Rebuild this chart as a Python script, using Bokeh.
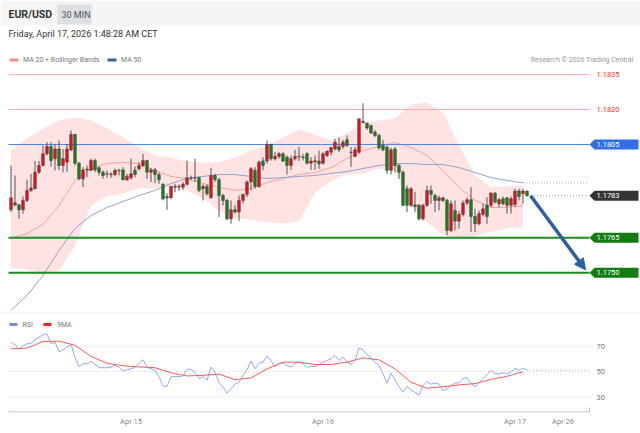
import numpy as np
from bokeh.plotting import figure
from bokeh.layouts import column
from bokeh.models import ColumnDataSource, Range1d, FixedTicker, Arrow, NormalHead
from bokeh.core.properties import value
from bokeh.embed import file_html
from bokeh.resources import INLINE

FONT = value("Roboto")

# ---------------- data ----------------
candle_open = [
    1.17770, 1.17800, 1.17791, 1.17770, 1.17810, 1.17853, 1.17860, 1.17931, 1.17960, 1.18010,
    1.18041, 1.17989, 1.18031, 1.17960, 1.17974, 1.18027, 1.18093, 1.17970, 1.17903, 1.17941,
    1.17939, 1.17981, 1.17950, 1.17931, 1.17924, 1.17921, 1.17921, 1.17939, 1.17941, 1.17899,
    1.17907, 1.17939, 1.17946, 1.17960, 1.17981, 1.17931, 1.17941, 1.17921, 1.17879, 1.17827,
    1.17821, 1.17867, 1.17870, 1.17867, 1.17879, 1.17907, 1.17907, 1.17907, 1.17860, 1.17870,
    1.17821, 1.17917, 1.17899, 1.17831, 1.17810, 1.17731, 1.17770, 1.17760, 1.17810, 1.17836,
    1.17889, 1.17939, 1.17870, 1.17979, 1.17979, 1.18050, 1.17989, 1.17999, 1.18010, 1.17996,
    1.17960, 1.17989, 1.17999, 1.17996, 1.18010, 1.17970, 1.17976, 1.17979, 1.17970, 1.18003,
    1.18017, 1.18031, 1.18041, 1.18041, 1.18070, 1.18017, 1.17999, 1.18017, 1.18150, 1.18141,
    1.18131, 1.18103, 1.18089, 1.18046, 1.18039, 1.17939, 1.18031, 1.17960, 1.17931, 1.17860,
    1.17789, 1.17791, 1.17789, 1.17731, 1.17789, 1.17853, 1.17831, 1.17810, 1.17821, 1.17810,
    1.17681, 1.17767, 1.17721, 1.17750, 1.17799, 1.17813, 1.17741, 1.17710, 1.17750, 1.17789,
    1.17789, 1.17841, 1.17796, 1.17817, 1.17821, 1.17789, 1.17793, 1.17850, 1.17839, 1.17850,
]
candle_close = [
    1.17821, 1.17790, 1.17770, 1.17810, 1.17853, 1.17863, 1.17931, 1.17960, 1.18010, 1.18041,
    1.17981, 1.18031, 1.17960, 1.17989, 1.18031, 1.18093, 1.17970, 1.17903, 1.17941, 1.17944,
    1.17981, 1.17941, 1.17931, 1.17917, 1.17923, 1.17923, 1.17939, 1.17937, 1.17899, 1.17913,
    1.17924, 1.17921, 1.17960, 1.17981, 1.17931, 1.17941, 1.17921, 1.17899, 1.17817, 1.17821,
    1.17870, 1.17870, 1.17868, 1.17879, 1.17907, 1.17906, 1.17906, 1.17853, 1.17870, 1.17839,
    1.17917, 1.17899, 1.17831, 1.17810, 1.17731, 1.17770, 1.17760, 1.17810, 1.17836, 1.17889,
    1.17946, 1.17870, 1.17974, 1.17960, 1.18050, 1.17989, 1.17999, 1.18010, 1.17979, 1.17960,
    1.17989, 1.17999, 1.17997, 1.17994, 1.17970, 1.17979, 1.17980, 1.17967, 1.18010, 1.18021,
    1.18036, 1.18060, 1.18027, 1.18060, 1.18046, 1.18016, 1.18027, 1.18160, 1.18144, 1.18121,
    1.18099, 1.18089, 1.18036, 1.18027, 1.17939, 1.18027, 1.17960, 1.17931, 1.17789, 1.17789,
    1.17860, 1.17784, 1.17731, 1.17789, 1.17853, 1.17836, 1.17810, 1.17821, 1.17810, 1.17681,
    1.17796, 1.17721, 1.17750, 1.17799, 1.17813, 1.17741, 1.17710, 1.17753, 1.17774, 1.17741,
    1.17841, 1.17803, 1.17813, 1.17796, 1.17789, 1.17817, 1.17850, 1.17827, 1.17850, 1.17830,
]
candle_high = [
    1.17960, 1.17917, 1.17795, 1.17827, 1.17899, 1.17924, 1.17979, 1.17979, 1.18046, 1.18060,
    1.18060, 1.18053, 1.18067, 1.18031, 1.18053, 1.18110, 1.18096, 1.17974, 1.17953, 1.17960,
    1.17989, 1.17989, 1.17956, 1.17939, 1.17939, 1.17931, 1.17946, 1.17946, 1.17953, 1.17924,
    1.17989, 1.17956, 1.17974, 1.18010, 1.17984, 1.17950, 1.17950, 1.17931, 1.17884, 1.17841,
    1.17874, 1.17881, 1.17879, 1.17889, 1.17981, 1.17917, 1.17989, 1.17913, 1.17879, 1.17879,
    1.17950, 1.17924, 1.17907, 1.17839, 1.17817, 1.17810, 1.17789, 1.17831, 1.17839, 1.17896,
    1.17953, 1.17953, 1.17981, 1.17996, 1.18067, 1.18053, 1.18017, 1.18017, 1.18017, 1.18003,
    1.18003, 1.18027, 1.18039, 1.18010, 1.18017, 1.17996, 1.18003, 1.18024, 1.18017, 1.18024,
    1.18041, 1.18074, 1.18079, 1.18070, 1.18089, 1.18039, 1.18039, 1.18160, 1.18227, 1.18146,
    1.18136, 1.18113, 1.18096, 1.18070, 1.18046, 1.18036, 1.18039, 1.17967, 1.17939, 1.17874,
    1.17867, 1.17846, 1.17796, 1.17796, 1.17874, 1.17874, 1.17839, 1.17831, 1.17827, 1.17817,
    1.17810, 1.17810, 1.17764, 1.17810, 1.17824, 1.17867, 1.17774, 1.17767, 1.17796, 1.17824,
    1.17846, 1.17846, 1.17821, 1.17827, 1.17824, 1.17827, 1.17860, 1.17860, 1.17860, 1.17853,
]
candle_low = [
    1.17760, 1.17785, 1.17731, 1.17753, 1.17803, 1.17846, 1.17856, 1.17924, 1.17956, 1.18003,
    1.17956, 1.17939, 1.17941, 1.17931, 1.17931, 1.18021, 1.17960, 1.17896, 1.17867, 1.17910,
    1.17936, 1.17931, 1.17917, 1.17903, 1.17907, 1.17907, 1.17913, 1.17917, 1.17896, 1.17893,
    1.17899, 1.17910, 1.17939, 1.17953, 1.17903, 1.17889, 1.17884, 1.17881, 1.17810, 1.17770,
    1.17817, 1.17846, 1.17850, 1.17856, 1.17874, 1.17896, 1.17889, 1.17846, 1.17810, 1.17831,
    1.17817, 1.17889, 1.17739, 1.17789, 1.17724, 1.17710, 1.17753, 1.17721, 1.17796, 1.17824,
    1.17853, 1.17860, 1.17864, 1.17939, 1.17967, 1.17981, 1.17981, 1.17989, 1.17974, 1.17921,
    1.17941, 1.17981, 1.17979, 1.17981, 1.17964, 1.17941, 1.17941, 1.17946, 1.17964, 1.17996,
    1.18003, 1.18024, 1.18017, 1.18031, 1.18039, 1.17953, 1.17996, 1.18010, 1.18141, 1.18113,
    1.18096, 1.18081, 1.18027, 1.18021, 1.17924, 1.17921, 1.17931, 1.17903, 1.17784, 1.17760,
    1.17781, 1.17760, 1.17724, 1.17724, 1.17781, 1.17796, 1.17760, 1.17767, 1.17803, 1.17660,
    1.17674, 1.17681, 1.17689, 1.17741, 1.17789, 1.17674, 1.17674, 1.17703, 1.17741, 1.17710,
    1.17781, 1.17796, 1.17781, 1.17789, 1.17753, 1.17753, 1.17781, 1.17810, 1.17796, 1.17827,
]

# indicator samples (every 4th candle)
ind_x = [0, 4, 8, 12, 16, 20, 24, 28, 32, 36, 40, 44, 48, 52, 56, 60, 64,
         68, 72, 76, 80, 84, 88, 92, 96, 100, 104, 108, 112, 116, 120, 124, 128]
bb_upper = [1.18024, 1.18076, 1.18119, 1.18153, 1.18166, 1.18153, 1.18119, 1.18080, 1.18037,
            1.18003, 1.17994, 1.17977, 1.17973, 1.17973, 1.17994, 1.18024, 1.18046, 1.18080,
            1.18114, 1.18093, 1.18067, 1.18097, 1.18144, 1.18153, 1.18162, 1.18222, 1.18230,
            1.18187, 1.18046, 1.17917, 1.17866, 1.17870, 1.17874]
bb_lower = [1.17522, 1.17514, 1.17492, 1.17509, 1.17617, 1.17788, 1.17827, 1.17840, 1.17861,
            1.17861, 1.17866, 1.17853, 1.17818, 1.17767, 1.17733, 1.17728, 1.17715, 1.17711,
            1.17720, 1.17844, 1.17891, 1.17921, 1.17926, 1.17947, 1.17938, 1.17788, 1.17715,
            1.17664, 1.17647, 1.17655, 1.17677, 1.17690, 1.17694]
ma20 = [1.17647, 1.17668, 1.17707, 1.17788, 1.17896, 1.17947, 1.17968, 1.17973, 1.17968,
        1.17938, 1.17913, 1.17904, 1.17883, 1.17866, 1.17853, 1.17861, 1.17887, 1.17904,
        1.17921, 1.17930, 1.17951, 1.17990, 1.18024, 1.18041, 1.18059, 1.18037, 1.18003,
        1.17938, 1.17866, 1.17810, 1.17780, 1.17780, 1.17788]
ma50 = [1.17338, 1.17402, 1.17488, 1.17595, 1.17690, 1.17745, 1.17780, 1.17805, 1.17831,
        1.17853, 1.17883, 1.17904, 1.17913, 1.17921, 1.17921, 1.17913, 1.17904, 1.17908,
        1.17913, 1.17917, 1.17926, 1.17934, 1.17947, 1.17960, 1.17968, 1.17968, 1.17964,
        1.17964, 1.17951, 1.17930, 1.17908, 1.17896, 1.17885]

rsi = [73.0, 70.9, 67.8, 70.1, 71.7, 72.2, 74.8, 76.9, 78.8, 79.5,
       71.7, 73.0, 65.4, 67.0, 69.1, 71.2, 61.2, 53.9, 56.0, 56.0,
       58.1, 55.5, 53.4, 52.9, 52.9, 53.4, 55.0, 53.4, 50.3, 51.3,
       52.1, 53.2, 56.5, 59.2, 53.2, 52.1, 51.0, 46.0, 38.6, 38.3,
       45.8, 46.1, 46.1, 46.5, 51.7, 51.7, 49.5, 44.5, 46.2, 43.0,
       53.4, 49.7, 41.3, 37.7, 33.0, 36.4, 40.3, 41.6, 46.9, 51.3,
       58.1, 52.1, 56.5, 57.3, 62.2, 58.6, 53.9, 56.5, 56.5, 54.7,
       53.4, 56.5, 57.3, 56.0, 53.4, 53.9, 53.9, 55.5, 57.3, 58.6,
       59.9, 62.5, 58.6, 61.2, 57.3, 55.5, 58.6, 68.5, 67.0, 63.3,
       60.7, 57.3, 54.7, 48.2, 40.9, 48.7, 43.5, 38.0, 34.0, 38.5,
       35.5, 33.5, 31.5, 39.0, 42.0, 40.0, 41.0, 40.0, 35.0, 36.0,
       39.0, 41.0, 41.0, 44.5, 45.0, 41.0, 38.0, 41.0, 44.5, 47.5,
       50.8, 48.5, 48.0, 49.0, 48.2, 49.5, 52.5, 51.0, 52.5, 51.0]
rsi_ma9 = [67.8, 68.3, 73.5, 73.8, 70.6, 61.8, 56.5, 54.5, 53.6, 53.0, 49.0, 46.5, 47.0,
           48.0, 43.5, 45.0, 52.0, 57.3, 57.3, 55.5, 55.5, 57.3, 60.7, 59.1, 52.1, 41.5,
           36.9, 38.0, 39.5, 40.5, 43.8, 46.2, 49.8]
rsi_levels = [70, 50, 30]

levels = [1.1835, 1.1820, 1.1805, 1.1783, 1.1765, 1.1750]
level_kind = ["res", "res", "pivot", "last", "sup", "sup"]
tick_pos = [30, 78, 126, 138]
tick_labels = ["Apr 15", "Apr 16", "Apr 17", "Apr 26"]
target_price = 1.17512

# ---------------- pixel helpers (layout only) ----------------
def mx(px):      # page x pixel -> candle index
    return (px - 10.5) / 4.0

def my(py):      # page y pixel -> price
    return 1.1805 - (py - 144) / 23300.0

def ry(py):      # page y pixel -> RSI value
    return 50 + (371 - py) / 1.275

W = 640
FRAME_R = 589    # right edge of the drawing area (page px)

idx = np.arange(len(candle_close))
o = np.array(candle_open); c = np.array(candle_close)
h = np.array(candle_high); l = np.array(candle_low)
up = c >= o

def bare(fig):
    fig.grid.visible = False
    return fig

# ---------------- header ----------------
hd = bare(figure(width=W, height=45, x_range=Range1d(0, W), y_range=Range1d(45, 0),
                 output_backend="svg", toolbar_location=None, min_border=0,
                 x_axis_location=None, y_axis_location=None, outline_line_color=None))
hd.quad(left=[0], right=[W], top=[0], bottom=[25], fill_color="#f5f5f5", line_color=None)
hd.quad(left=[57], right=[91], top=[4], bottom=[24], fill_color="#dcdfe3", line_color=None)
hd.text(x=[8], y=[13.5], text=["EUR/USD"], text_font=FONT, text_font_size="10.5px",
        text_font_style="bold", text_color="#333333", text_baseline="middle")
hd.text(x=[61], y=[14], text=["30 MIN"], text_font=FONT, text_font_size="9px",
        text_color="#555555", text_baseline="middle")
hd.text(x=[8], y=[33.5], text=["Friday, April 17, 2026 1:48:28 AM CET"], text_font=FONT,
        text_font_size="9px", text_color="#333333", text_baseline="middle")

# ---------------- main chart ----------------
p = bare(figure(width=W, height=268, x_range=Range1d(mx(0), mx(W)), y_range=Range1d(my(313), my(45)),
                output_backend="svg", toolbar_location=None, min_border=0,
                x_axis_location=None, y_axis_location=None, outline_line_color=None))

p.varea(x=ind_x, y1=bb_lower, y2=bb_upper, fill_color="#ffe2e2", fill_alpha=1.0)
p.line(ind_x, ma20, line_color="#ff9f9f", line_width=1)
p.line(ind_x, ma50, line_color="#8fa4cc", line_width=1)

lvl_color = {"res": "#ffadad", "pivot": "#4f86ee", "sup": "#1e8c1e"}
lvl_width = {"res": 1, "pivot": 1.2, "sup": 2}
for v, k in zip(levels, level_kind):
    if k == "last":
        continue
    p.segment(x0=[mx(8)], x1=[mx(FRAME_R)], y0=[v], y1=[v], line_color=lvl_color[k], line_width=lvl_width[k])

# dotted guide lines (last price, MA50 end)
p.segment(x0=[idx[-1] + 1.0], x1=[mx(FRAME_R - 1)], y0=[levels[3]], y1=[levels[3]],
          line_color="#9a9a9a", line_dash="1 2", line_width=1)
p.segment(x0=[ind_x[-1]], x1=[mx(FRAME_R - 1)], y0=[ma50[-1]], y1=[ma50[-1]],
          line_color="#b0b0b0", line_dash="1 2", line_width=1)

# candles
src = ColumnDataSource(dict(x=idx, top=np.maximum(o, c), bottom=np.minimum(o, c), hi=h, lo=l,
                            color=np.where(up, "#e8101c", "#1d7d1d")))
p.segment(x0="x", x1="x", y0="lo", y1="hi", source=src, line_color="#555555", line_width=1)
p.vbar(x="x", width=0.68, top="top", bottom="bottom", source=src, fill_color="color",
       line_color="#3a3a3a", line_width=0.5)

# forecast arrow
p.add_layout(Arrow(end=NormalHead(size=11, fill_color="#2d5e9e", line_color="#2d5e9e"),
                   x_start=idx[-1] + 0.9, y_start=levels[3], x_end=mx(FRAME_R - 4), y_end=target_price,
                   line_color="#2d5e9e", line_width=3.5))

# price tags
hh = 5.0 / 23300
tag_bg = {"pivot": "#2f6fe8", "last": "#333333", "sup": "#137d13"}
xs, ys, fills = [], [], []
for v, k in zip(levels, level_kind):
    if k in tag_bg:
        xs.append([mx(FRAME_R), mx(FRAME_R + 5), mx(638), mx(638), mx(FRAME_R + 5)])
        ys.append([v, v + hh, v + hh, v - hh, v - hh])
        fills.append(tag_bg[k])
p.patches(xs=xs, ys=ys, fill_color=fills, line_color=None)
p.text(x=[mx(596)] * len(levels), y=levels, text=[f"{v:.4f}" for v in levels],
       text_color=["#ff2a2a" if k == "res" else "#ffffff" for k in level_kind],
       text_font=FONT, text_font_size="7.5px", text_baseline="middle")

# legend + credit
p.segment(x0=[mx(9), mx(107)], x1=[mx(18), mx(116)], y0=[my(59.5)] * 2, y1=[my(59.5)] * 2,
          line_color=["#ff8c8c", "#3b5f9c"], line_width=3)
p.text(x=[mx(22.5), mx(120.5)], y=[my(59.5)] * 2, text=["MA 20 + Bollinger Bands", "MA 50"],
       text_font=FONT, text_font_size="7px", text_color="#777777", text_baseline="middle")
p.text(x=[mx(633)], y=[my(59.5)], text=["Research \u00a9 2026 Trading Central"], text_align="right",
       text_font=FONT, text_font_size="7px", text_color="#999999", text_baseline="middle")
# panel separator
p.segment(x0=[mx(0)], x1=[mx(W)], y0=[my(312.5)], y1=[my(312.5)], line_color="#e8e8e8", line_width=1)

# ---------------- RSI panel ----------------
r = bare(figure(width=W, height=120, x_range=Range1d(mx(0), mx(W)), y_range=Range1d(ry(412), ry(313)),
                output_backend="svg", toolbar_location=None, min_border_left=0, min_border_right=0,
                min_border_top=0, min_border_bottom=21, y_axis_location=None, outline_line_color=None))
r.segment(x0=[mx(8)] * 3, x1=[mx(FRAME_R)] * 3, y0=rsi_levels, y1=rsi_levels,
          line_color="#c9c9c9", line_dash="1 3", line_width=1)
r.text(x=[mx(596)] * 3, y=rsi_levels, text=[str(v) for v in rsi_levels], text_font=FONT,
       text_font_size="7.5px", text_color="#777777", text_baseline="middle")
r.line(idx, rsi, line_color="#8eaaf0", line_width=1)
r.line(ind_x, rsi_ma9, line_color="#ff5a5a", line_width=1)
r.segment(x0=[idx[-1]], x1=[mx(FRAME_R - 1)], y0=[rsi[-1]], y1=[rsi[-1]], line_color="#a9bdf2",
          line_dash="1 2", line_width=1)

r.segment(x0=[mx(9), mx(43)], x1=[mx(17), mx(51)], y0=[ry(324)] * 2, y1=[ry(324)] * 2,
          line_color=["#6f8fe0", "#ff2020"], line_width=3)
r.text(x=[mx(22), mx(56.5)], y=[ry(324)] * 2, text=["RSI", "9MA"], text_font=FONT,
       text_font_size="7px", text_color="#777777", text_baseline="middle")

# time axis line (ends at the drawing area edge, with end tick)
r.segment(x0=[mx(8), mx(FRAME_R)], x1=[mx(FRAME_R), mx(FRAME_R)],
          y0=[ry(411.5), ry(411.5)], y1=[ry(411.5), ry(407)], line_color="#b5b5b5", line_width=1)

ax = r.xaxis[0]
ax.ticker = FixedTicker(ticks=tick_pos)
ax.major_label_overrides = {t: s for t, s in zip(tick_pos, tick_labels)}
ax.axis_line_color = None
ax.major_tick_line_color = None
ax.minor_tick_line_color = None
ax.major_tick_out = 0
ax.major_tick_in = 0
ax.major_label_text_color = "#888888"
ax.major_label_text_font = "Roboto"
ax.major_label_text_font_size = "7.5px"
ax.major_label_standoff = 4

layout = column(hd, p, r, spacing=0)
open("out.html", "w").write(file_html(layout, INLINE))
